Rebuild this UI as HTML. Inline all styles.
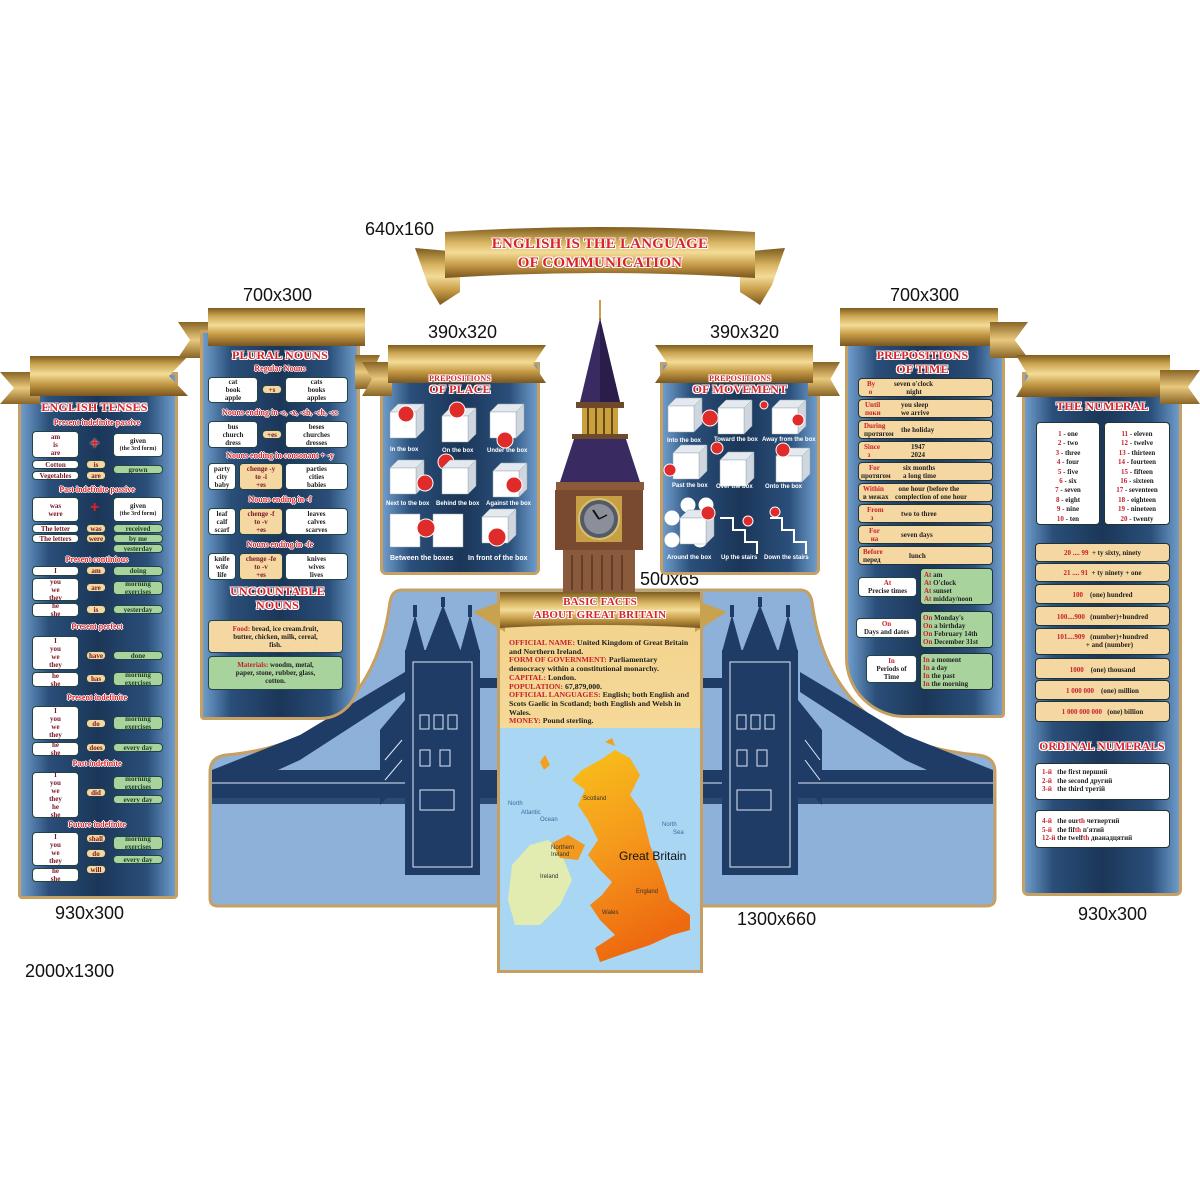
<!DOCTYPE html>
<html><head><meta charset="utf-8"><style>
*{margin:0;padding:0;box-sizing:border-box}
body{width:1200px;height:1200px;background:#fff;position:relative;overflow:hidden;font-family:"Liberation Serif","DejaVu Serif",serif}
.a{position:absolute}
.lbl{position:absolute;font:18px "Liberation Sans",sans-serif;color:#111}
.p{position:absolute;background:linear-gradient(90deg,#6f9ccb 0%,#2a4f7a 18%,#1b3658 50%,#2a4f7a 82%,#6f9ccb 100%);border:3px solid #c6a062}
.rib{position:absolute;background:linear-gradient(180deg,#7d5c1e 0%,#c9a24f 20%,#f3dc97 45%,#c59a45 70%,#7a5620 100%)}
.flag{position:absolute;background:linear-gradient(180deg,#8a6526,#e8c97c 50%,#8a6526)}
.t{position:absolute;text-align:center;font-weight:bold;color:#d8232a;text-shadow:1px 0 #fff,-1px 0 #fff,0 1px #fff,0 -1px #fff,1px 1px #fff,-1px -1px #fff,1px -1px #fff,-1px 1px #fff;letter-spacing:.2px}
.h{position:absolute;text-align:center;font-weight:bold;font-size:8px;color:#d8232a;text-shadow:1px 0 #fff,-1px 0 #fff,0 1px #fff,0 -1px #fff;line-height:9px}
.b{position:absolute;border-radius:4px;font-weight:bold;font-size:7px;line-height:8px;text-align:center;color:#7a1626;display:flex;flex-direction:column;justify-content:center;align-items:center;border:1px solid #244}
.w{background:#fff}.o{background:#f5d7a2}.g{background:#a8d39d;color:#20402a}
.d{color:#222}.r{color:#c8202a}
.ob{position:absolute;background:#f5d7a2;border-radius:4px;border:1px solid #233;font-weight:bold;font-size:7px;line-height:8px;color:#222}
</style></head><body>

<div class="lbl" style="left:365px;top:219px">640x160</div>
<div class="lbl" style="left:243px;top:285px">700x300</div>
<div class="lbl" style="left:428px;top:322px">390x320</div>
<div class="lbl" style="left:710px;top:322px">390x320</div>
<div class="lbl" style="left:890px;top:285px">700x300</div>
<div class="lbl" style="left:640px;top:569px">500x65</div>
<div class="lbl" style="left:55px;top:903px">930x300</div>
<div class="lbl" style="left:737px;top:909px">1300x660</div>
<div class="lbl" style="left:1078px;top:904px">930x300</div>
<div class="lbl" style="left:25px;top:961px">2000x1300</div>

<svg class="a" style="left:0;top:0" width="1200" height="1200">
<defs>
<linearGradient id="gd" x1="0" y1="0" x2="0" y2="1"><stop offset="0" stop-color="#7d5c1e"/><stop offset=".3" stop-color="#d8b461"/><stop offset=".5" stop-color="#f3dc97"/><stop offset=".75" stop-color="#c59a45"/><stop offset="1" stop-color="#7a5620"/></linearGradient>
</defs>
<path d="M415,248 L460,252 L460,292 L440,305 L428,285 Z" fill="url(#gd)"/>
<path d="M785,248 L740,252 L740,292 L760,305 L772,285 Z" fill="url(#gd)"/>
<path d="M445,232 Q600,222 755,232 L755,278 Q600,268 445,278 Z" fill="url(#gd)"/>
</svg>
<div class="t" style="left:445px;top:235px;width:310px;font-size:15px;line-height:19px">ENGLISH IS THE LANGUAGE<br>OF COMMUNICATION</div>

<!-- BRIDGE PANEL -->
<svg class="a" style="left:0;top:0" width="1200" height="1200">
<path d="M402,590 L800,590 Q810,590 812,602 Q830,742 978,755 Q995,757 995,772 L995,898 Q995,906 986,906 L218,906 Q210,906 210,898 L210,772 Q210,757 226,755 Q372,742 390,602 Q392,590 402,590 Z" fill="#8eb1da" stroke="#c6a062" stroke-width="3"/>
<g fill="#1f3c66">
<!-- cables / deck left -->
<polygon points="212,800 212,770 300,735 405,672 405,692 300,760"/>
<rect x="212" y="770" width="285" height="28"/>
<rect x="212" y="798" width="285" height="6" fill="#2b4a75"/>
<rect x="480" y="678" width="20" height="10"/>
<polygon points="380,805 405,780 405,700 380,730"/>
<!-- left tower -->
<rect x="405" y="650" width="75" height="225"/>
<polygon points="405,652 415,615 425,652"/><polygon points="460,652 470,615 480,652"/><polygon points="425,652 443,605 461,652"/>
<rect x="413" y="605" width="4" height="12"/><rect x="468" y="605" width="4" height="12"/><rect x="441" y="597" width="4" height="10"/>
<!-- right -->
<polygon points="993,800 993,770 905,735 800,672 800,692 905,760"/>
<rect x="703" y="770" width="290" height="28"/>
<rect x="703" y="798" width="290" height="6" fill="#2b4a75"/>
<rect x="703" y="678" width="20" height="10"/>
<polygon points="822,805 798,780 798,700 822,730"/>
<rect x="722" y="650" width="76" height="225"/>
<polygon points="722,652 732,615 742,652"/><polygon points="778,652 788,615 798,652"/><polygon points="742,652 760,605 778,652"/>
<rect x="730" y="605" width="4" height="12"/><rect x="786" y="605" width="4" height="12"/><rect x="758" y="597" width="4" height="10"/>
</g>
<g stroke="#dfe8f5" stroke-width="1" fill="none">
<rect x="413" y="662" width="59" height="205"/><rect x="730" y="662" width="60" height="205"/>
<path d="M420,715 h9 v14 h-9z M434,715 h9 v14 h-9z M448,715 h9 v14 h-9z M420,750 h10 v16 h-10z M440,750 h10 v16 h-10z M420,790 h34 v20 h-34z"/>
<path d="M737,715 h9 v14 h-9z M751,715 h9 v14 h-9z M765,715 h9 v14 h-9z M737,750 h10 v16 h-10z M757,750 h10 v16 h-10z M737,790 h34 v20 h-34z"/>
<path d="M212,783 H405 M703,783 H722 M798,783 H993"/>
<path d="M385,760 L402,740 M385,780 L402,760 M805,740 L820,760 M805,760 L820,780"/>
</g>
</svg>

<!-- ENGLISH TENSES panel -->
<div class="p" style="left:18px;top:372px;width:160px;height:527px;border-radius:0 0 4px 4px"></div>
<div class="flag" style="left:0;top:372px;width:40px;height:32px;clip-path:polygon(0 0,100% 0,100% 100%,0 100%,14px 50%)"></div>
<div class="rib" style="left:30px;top:356px;width:158px;height:40px;clip-path:polygon(0 0,100% 0,88% 50%,100% 100%,0 100%)"></div>
<div class="flag" style="left:178px;top:322px;width:30px;height:36px;clip-path:polygon(0 0,100% 0,100% 100%,0 100%,12px 50%)"></div>
<div class="t" style="left:22px;top:400px;width:145px;font-size:12px">ENGLISH TENSES</div>
<div class="h" style="left:22px;top:418px;width:150px">Present indefinite passive</div>
<div class="b w" style="left:32px;top:431px;width:47px;height:27px">am<br>is<br>are</div>
<div class="a" style="left:90px;top:435px;color:#d8232a;font:bold 16px Liberation Sans;text-shadow:0 0 2px #fff">+</div>
<div class="b w" style="left:113px;top:433px;width:50px;height:24px"><span class="d">given</span><span class="d" style="font-size:6px">(the 3rd form)</span></div>
<div class="b w" style="left:32px;top:460px;width:47px;height:9px">Cotton</div>
<div class="b o" style="left:86px;top:460px;width:20px;height:9px">is</div>
<div class="b w" style="left:32px;top:471px;width:47px;height:9px">Vegetables</div>
<div class="b o" style="left:86px;top:471px;width:20px;height:9px">are</div>
<div class="b g" style="left:113px;top:465px;width:50px;height:9px">grown</div>
<div class="h" style="left:22px;top:485px;width:150px">Past indefinite passive</div>
<div class="b w" style="left:32px;top:497px;width:47px;height:25px">was<br>were</div>
<div class="a" style="left:90px;top:499px;color:#d8232a;font:bold 16px Liberation Sans">+</div>
<div class="b w" style="left:113px;top:497px;width:50px;height:25px"><span class="d">given</span><span class="d" style="font-size:6px">(the 3rd form)</span></div>
<div class="b w" style="left:32px;top:524px;width:47px;height:9px">The letter</div>
<div class="b o" style="left:86px;top:524px;width:20px;height:9px">was</div>
<div class="b g" style="left:113px;top:524px;width:50px;height:9px">received</div>
<div class="b w" style="left:32px;top:534px;width:47px;height:9px">The letters</div>
<div class="b o" style="left:86px;top:534px;width:20px;height:9px">were</div>
<div class="b g" style="left:113px;top:534px;width:50px;height:9px">by me</div>
<div class="b g" style="left:113px;top:544px;width:50px;height:9px">yesterday</div>
<div class="h" style="left:22px;top:555px;width:150px">Present continious</div>
<div class="b w" style="left:32px;top:566px;width:47px;height:10px">I</div>
<div class="b o" style="left:86px;top:566px;width:20px;height:9px">am</div>
<div class="b g" style="left:113px;top:566px;width:50px;height:10px">doing</div>
<div class="b w" style="left:32px;top:578px;width:47px;height:23px">you<br>we<br>they</div>
<div class="b o" style="left:86px;top:583px;width:20px;height:9px">are</div>
<div class="b g" style="left:113px;top:581px;width:50px;height:14px">morning<br>exercises</div>
<div class="b w" style="left:32px;top:603px;width:47px;height:14px">he<br>she</div>
<div class="b o" style="left:86px;top:605px;width:20px;height:9px">is</div>
<div class="b g" style="left:113px;top:605px;width:50px;height:9px">yesterday</div>
<div class="h" style="left:22px;top:622px;width:150px">Present perfect</div>
<div class="b w" style="left:32px;top:636px;width:47px;height:34px">I<br>you<br>we<br>they</div>
<div class="b o" style="left:86px;top:651px;width:20px;height:9px">have</div>
<div class="b g" style="left:113px;top:651px;width:50px;height:9px">done</div>
<div class="b w" style="left:32px;top:672px;width:47px;height:15px">he<br>she</div>
<div class="b o" style="left:86px;top:674px;width:20px;height:9px">has</div>
<div class="b g" style="left:113px;top:672px;width:50px;height:14px">morning<br>exercises</div>
<div class="h" style="left:22px;top:693px;width:150px">Present indefinite</div>
<div class="b w" style="left:32px;top:706px;width:47px;height:34px">I<br>you<br>we<br>they</div>
<div class="b o" style="left:86px;top:719px;width:20px;height:9px">do</div>
<div class="b g" style="left:113px;top:716px;width:50px;height:14px">morning<br>exercises</div>
<div class="b w" style="left:32px;top:742px;width:47px;height:14px">he<br>she</div>
<div class="b o" style="left:86px;top:743px;width:20px;height:9px">does</div>
<div class="b g" style="left:113px;top:743px;width:50px;height:9px">every day</div>
<div class="h" style="left:22px;top:759px;width:150px">Past indefinite</div>
<div class="b w" style="left:32px;top:772px;width:47px;height:46px">I<br>you<br>we<br>they<br>he<br>she</div>
<div class="b o" style="left:86px;top:788px;width:20px;height:9px">did</div>
<div class="b g" style="left:113px;top:776px;width:50px;height:14px">morning<br>exercises</div>
<div class="b g" style="left:113px;top:795px;width:50px;height:9px">every day</div>
<div class="h" style="left:22px;top:820px;width:150px">Future indefinite</div>
<div class="b w" style="left:32px;top:832px;width:47px;height:34px">I<br>you<br>we<br>they</div>
<div class="b o" style="left:86px;top:834px;width:20px;height:9px">shall</div>
<div class="b o" style="left:86px;top:849px;width:20px;height:9px">do</div>
<div class="b o" style="left:86px;top:865px;width:20px;height:9px">will</div>
<div class="b g" style="left:113px;top:836px;width:50px;height:14px">morning<br>exercises</div>
<div class="b g" style="left:113px;top:855px;width:50px;height:9px">every day</div>
<div class="b w" style="left:32px;top:868px;width:47px;height:14px">he<br>she</div>

<!-- PLURAL NOUNS panel -->
<div class="p" style="left:200px;top:330px;width:160px;height:390px;border-radius:0 0 40px 4px"></div>
<div class="rib" style="left:208px;top:308px;width:157px;height:38px"></div>
<div class="flag" style="left:355px;top:355px;width:25px;height:34px;clip-path:polygon(0 0,100% 0,70% 50%,100% 100%,0 100%)"></div>
<div class="t" style="left:205px;top:348px;width:150px;font-size:12px">PLURAL NOUNS</div>
<div class="h" style="left:205px;top:364px;width:150px">Regular Nouns</div>
<div class="b w" style="left:208px;top:377px;width:50px;height:26px"><span class="d">cat<br>book<br>apple</span></div>
<div class="b o" style="left:262px;top:385px;width:20px;height:9px">+s</div>
<div class="b w" style="left:285px;top:377px;width:63px;height:26px"><span class="d">cats<br>books<br>apples</span></div>
<div class="h" style="left:205px;top:408px;width:150px">Nouns ending in -s, -x, -sh, -ch, -ss</div>
<div class="b w" style="left:208px;top:421px;width:50px;height:27px"><span class="d">bus<br>church<br>dress</span></div>
<div class="b o" style="left:262px;top:430px;width:20px;height:9px">+es</div>
<div class="b w" style="left:285px;top:421px;width:63px;height:27px"><span class="d">beses<br>churches<br>dresses</span></div>
<div class="h" style="left:205px;top:451px;width:150px">Nouns ending in consonant + -y</div>
<div class="b w" style="left:208px;top:463px;width:28px;height:27px"><span class="d">party<br>city<br>baby</span></div>
<div class="b o" style="left:239px;top:463px;width:44px;height:27px">chenge -y<br>to -i<br>+es</div>
<div class="b w" style="left:285px;top:463px;width:63px;height:27px"><span class="d">parties<br>cities<br>babies</span></div>
<div class="h" style="left:205px;top:495px;width:150px">Nouns ending in -f</div>
<div class="b w" style="left:208px;top:508px;width:28px;height:27px"><span class="d">leaf<br>calf<br>scarf</span></div>
<div class="b o" style="left:239px;top:508px;width:44px;height:27px">chenge -f<br>to -v<br>+es</div>
<div class="b w" style="left:285px;top:508px;width:63px;height:27px"><span class="d">leaves<br>calves<br>scarves</span></div>
<div class="h" style="left:205px;top:540px;width:150px">Nouns ending in -fe</div>
<div class="b w" style="left:208px;top:553px;width:28px;height:27px"><span class="d">knife<br>wife<br>life</span></div>
<div class="b o" style="left:239px;top:553px;width:44px;height:27px">chenge -fe<br>to -v<br>+es</div>
<div class="b w" style="left:285px;top:553px;width:63px;height:27px"><span class="d">knives<br>wives<br>lives</span></div>
<div class="t" style="left:205px;top:584px;width:145px;font-size:12px;line-height:14px">UNCOUNTABLE<br>NOUNS</div>
<div class="b o" style="left:208px;top:620px;width:135px;height:33px;color:#222"><span><span class="r">Food:</span> bread, ice cream.fruit,<br>butter, chicken, milk, cereal,<br>fish.</span></div>
<div class="b g" style="left:208px;top:656px;width:135px;height:34px;color:#222"><span><span class="r">Materials:</span> woodm, metal,<br>paper, stone, rubber, glass,<br>cotton.</span></div>

<!-- PREPOSITIONS OF PLACE -->
<div class="p" style="left:380px;top:362px;width:160px;height:213px;border-radius:0 0 6px 6px"></div>
<div class="flag" style="left:362px;top:362px;width:30px;height:34px;clip-path:polygon(0 0,100% 0,100% 100%,0 100%,10px 50%)"></div>
<div class="rib" style="left:388px;top:345px;width:158px;height:38px;clip-path:polygon(0 0,100% 0,92% 50%,100% 100%,0 100%)"></div>
<div class="t" style="left:385px;top:374px;width:150px;font-size:8px;line-height:9px">PREPOSITIONS</div>
<div class="t" style="left:385px;top:383px;width:150px;font-size:12px;line-height:13px">OF PLACE</div>
<!-- PREPOSITIONS OF MOVEMENT -->
<div class="p" style="left:660px;top:362px;width:160px;height:213px;border-radius:0 0 6px 6px"></div>
<div class="flag" style="left:808px;top:362px;width:32px;height:34px;clip-path:polygon(0 0,100% 0,70% 50%,100% 100%,0 100%)"></div>
<div class="rib" style="left:655px;top:345px;width:158px;height:38px;clip-path:polygon(0 0,100% 0,100% 100%,0 100%,8% 50%)"></div>
<div class="t" style="left:665px;top:374px;width:150px;font-size:8px;line-height:9px">PREPOSITIONS</div>
<div class="t" style="left:665px;top:383px;width:150px;font-size:12px;line-height:13px">OF MOVEMENT</div>

<svg class="a" style="left:0;top:0" width="1200" height="1200">
<defs>
<g id="cube"><polygon points="0,8 8,0 34,0 26,8" fill="#e4e9f0" stroke="#9aa" stroke-width=".5"/><polygon points="26,8 34,0 34,26 26,34" fill="#cfd6e0" stroke="#9aa" stroke-width=".5"/><rect x="0" y="8" width="26" height="26" fill="#fff" stroke="#9aa" stroke-width=".5"/></g>
</defs>
<g fill="#e02b2b" stroke="#fff" stroke-width="1">
<use href="#cube" x="390" y="404"/><circle cx="406" cy="414" r="8"/>
<use href="#cube" x="442" y="408"/><circle cx="457" cy="410" r="8"/>
<use href="#cube" x="490" y="404"/><circle cx="505" cy="440" r="8"/>
<use href="#cube" x="390" y="460"/><circle cx="425" cy="483" r="8"/>
<circle cx="446" cy="462" r="8"/><use href="#cube" x="442" y="460"/>
<use href="#cube" x="493" y="463"/><circle cx="514" cy="485" r="8"/>
<rect x="390" y="514" width="30" height="33" fill="#fff" stroke="#9aa" stroke-width=".5"/><rect x="433" y="514" width="30" height="33" fill="#fff" stroke="#9aa" stroke-width=".5"/><circle cx="426" cy="528" r="9"/>
<use href="#cube" x="482" y="509"/><circle cx="497" cy="537" r="9"/>
<use href="#cube" x="668" y="398"/><circle cx="710" cy="418" r="8"/>
<use href="#cube" x="718" y="400"/><circle cx="764" cy="405" r="4"/>
<use href="#cube" x="772" y="400"/><circle cx="798" cy="420" r="6"/>
<use href="#cube" x="673" y="445"/><circle cx="670" cy="470" r="6"/>
<use href="#cube" x="720" y="452"/><circle cx="717" cy="448" r="6"/>
<use href="#cube" x="776" y="448"/><circle cx="783" cy="450" r="7"/>
<circle cx="672" cy="518" r="7" fill="#fff"/><circle cx="688" cy="505" r="7" fill="#fff"/><circle cx="706" cy="505" r="7" fill="#fff"/><circle cx="672" cy="540" r="7" fill="#fff"/><circle cx="700" cy="540" r="7" fill="#fff"/>
<use href="#cube" x="680" y="510"/><circle cx="708" cy="513" r="7"/>
<polyline points="720,518 733,518 733,530 745,530 745,542 757,542 757,554" fill="none" stroke="#fff" stroke-width="2"/><circle cx="748" cy="521" r="5"/>
<polyline points="770,518 782,518 782,530 794,530 794,542 806,542 806,554" fill="none" stroke="#fff" stroke-width="2"/><circle cx="775" cy="512" r="5"/>
</g>
<g font-family="Liberation Sans" font-size="6" font-weight="bold" fill="#fff">
<text x="390" y="451">In the box</text><text x="442" y="452">On the box</text><text x="487" y="452">Under the box</text>
<text x="386" y="505">Next to the box</text><text x="436" y="505">Behind the box</text><text x="486" y="505">Against the box</text>
<text x="390" y="560" font-size="7">Between the boxes</text><text x="468" y="560" font-size="7">In front of the box</text>
<text x="667" y="442">Into the box</text><text x="714" y="441">Toward the box</text><text x="762" y="441">Away from the box</text>
<text x="672" y="487">Past the box</text><text x="716" y="488">Over the box</text><text x="765" y="488">Onto the box</text>
<text x="667" y="559">Around the box</text><text x="721" y="559">Up the stairs</text><text x="764" y="559">Down the stairs</text>
</g>

<!-- BIG BEN -->
<line x1="600" y1="300" x2="600" y2="320" stroke="#c8a050" stroke-width="2"/>
<polygon points="600,318 580,402 620,402" fill="#3a2a62"/>
<polygon points="600,318 600,402 620,402" fill="#2a1d4c"/>
<rect x="576" y="402" width="48" height="6" fill="#6e4a2a"/>
<rect x="582" y="408" width="36" height="28" fill="#c9a040"/>
<g stroke="#6a4a10" stroke-width="2"><line x1="588" y1="408" x2="588" y2="436"/><line x1="596" y1="408" x2="596" y2="436"/><line x1="604" y1="408" x2="604" y2="436"/><line x1="612" y1="408" x2="612" y2="436"/></g>
<rect x="572" y="434" width="56" height="5" fill="#6e4a2a"/>
<polygon points="574,439 626,439 640,482 560,482" fill="#3a2a62"/>
<rect x="556" y="482" width="88" height="8" fill="#8a5a3a"/>
<rect x="555" y="490" width="88" height="60" fill="#7a4a30"/>
<rect x="576" y="496" width="46" height="46" fill="#c7a046"/>
<circle cx="599" cy="519" r="20" fill="#555a66" stroke="#d8c070" stroke-width="2"/>
<circle cx="599" cy="519" r="15" fill="#8a8f9a"/>
<line x1="599" y1="519" x2="593" y2="510" stroke="#111" stroke-width="2"/><line x1="599" y1="519" x2="607" y2="515" stroke="#111" stroke-width="1.5"/>
<rect x="563" y="550" width="72" height="42" fill="#8a5a3c"/>
<g stroke="#5a3420" stroke-width="1.5"><line x1="572" y1="555" x2="572" y2="590"/><line x1="582" y1="555" x2="582" y2="590"/><line x1="592" y1="555" x2="592" y2="590"/><line x1="602" y1="555" x2="602" y2="590"/><line x1="612" y1="555" x2="612" y2="590"/><line x1="622" y1="555" x2="622" y2="590"/></g>
</svg>

<!-- PREPOSITIONS OF TIME -->
<div class="p" style="left:845px;top:330px;width:160px;height:388px;border-radius:0 0 4px 60px"></div>
<div class="rib" style="left:840px;top:308px;width:158px;height:38px"></div>
<div class="flag" style="left:990px;top:322px;width:38px;height:36px;clip-path:polygon(0 0,100% 0,65% 50%,100% 100%,0 100%)"></div>
<div class="t" style="left:850px;top:348px;width:145px;font-size:12px;line-height:14px">PREPOSITIONS<br>OF TIME</div>
<div class="ob" style="left:858px;top:378px;width:135px;height:19px"><span class="a r" style="left:8px;top:1px">By<br>&nbsp;о</span><span class="a" style="left:35px;top:1px">seven o'clock<br>&nbsp;&nbsp;&nbsp;&nbsp;&nbsp;&nbsp;&nbsp;night</span></div>
<div class="ob" style="left:858px;top:399px;width:135px;height:19px"><span class="a r" style="left:6px;top:1px">Until<br>поки</span><span class="a" style="left:42px;top:1px">you sleep<br>we arrive</span></div>
<div class="ob" style="left:858px;top:420px;width:135px;height:19px"><span class="a r" style="left:5px;top:1px">During<br><span class="d">протягом</span></span><span class="a" style="left:42px;top:5px">the holiday</span></div>
<div class="ob" style="left:858px;top:441px;width:135px;height:19px"><span class="a r" style="left:5px;top:1px">Since<br>&nbsp;&nbsp;з</span><span class="a" style="left:52px;top:1px">1947<br>2024</span></div>
<div class="ob" style="left:858px;top:462px;width:135px;height:19px"><span class="a r" style="left:10px;top:1px">For<br><span class="d" style="margin-left:-8px">протягом</span></span><span class="a" style="left:44px;top:1px">six months<br>a long time</span></div>
<div class="ob" style="left:858px;top:483px;width:135px;height:19px"><span class="a r" style="left:4px;top:1px">Within<br><span class="d">в межах</span></span><span class="a" style="left:36px;top:1px">&nbsp;&nbsp;one hour (before the<br>complection of one hour</span></div>
<div class="ob" style="left:858px;top:504px;width:135px;height:19px"><span class="a r" style="left:8px;top:1px">From<br>&nbsp;&nbsp;з</span><span class="a" style="left:42px;top:5px">two to three</span></div>
<div class="ob" style="left:858px;top:525px;width:135px;height:19px"><span class="a r" style="left:10px;top:1px">For<br>&nbsp;на</span><span class="a" style="left:42px;top:5px">seven days</span></div>
<div class="ob" style="left:858px;top:546px;width:135px;height:19px"><span class="a r" style="left:4px;top:1px">Before<br><span class="d">перед</span></span><span class="a" style="left:50px;top:5px">lunch</span></div>
<div class="b w" style="left:858px;top:577px;width:59px;height:20px;color:#222"><span class="r">At</span>Precise times</div>
<div class="ob" style="left:920px;top:568px;width:73px;height:37px;background:#a8d39d;text-align:left;padding:2px 3px"><span class="r">At</span> am<br><span class="r">At</span> O'clock<br><span class="r">At</span> sunset<br><span class="r">At</span> midday/noon</div>
<div class="b w" style="left:856px;top:618px;width:61px;height:20px;color:#222"><span class="r">On</span>Days and dates</div>
<div class="ob" style="left:920px;top:611px;width:73px;height:37px;background:#a8d39d;text-align:left;padding:2px 2px"><span class="r">On</span> Monday's<br><span class="r">On</span> a birthday<br><span class="r">On</span> February 14th<br><span class="r">On</span> December 31st</div>
<div class="b w" style="left:866px;top:655px;width:51px;height:28px;color:#222"><span class="r">In</span>Periods of<br>Time</div>
<div class="ob" style="left:920px;top:653px;width:73px;height:37px;background:#a8d39d;text-align:left;padding:2px 2px"><span class="r">In</span> a moment<br><span class="r">In</span> a day<br><span class="r">In</span> the past<br><span class="r">In</span> the morning</div>

<!-- THE NUMERAL -->
<div class="p" style="left:1022px;top:372px;width:160px;height:524px;border-radius:0 0 6px 6px"></div>
<div class="rib" style="left:1016px;top:355px;width:154px;height:42px;clip-path:polygon(0 0,100% 0,100% 100%,0 100%,8% 50%)"></div>
<div class="flag" style="left:1160px;top:370px;width:40px;height:34px;clip-path:polygon(0 0,100% 0,70% 50%,100% 100%,0 100%)"></div>
<div class="t" style="left:1030px;top:399px;width:145px;font-size:12px">THE NUMERAL</div>
<div class="ob" style="left:1036px;top:422px;width:64px;height:103px;background:#fff;text-align:center;line-height:9.4px;padding-top:7px"><span class="r">1</span> - one<br><span class="r">2</span> - two<br><span class="r">3</span> - three<br><span class="r">4</span> - four<br><span class="r">5</span> - five<br><span class="r">6</span> - six<br><span class="r">7</span> - seven<br><span class="r">8</span> - eight<br><span class="r">9</span> - nine<br><span class="r">10</span> - ten</div>
<div class="ob" style="left:1104px;top:422px;width:66px;height:103px;background:#fff;text-align:center;line-height:9.4px;padding-top:7px"><span class="r">11</span> - eleven<br><span class="r">12</span> - twelve<br><span class="r">13</span> - thirteen<br><span class="r">14</span> - fourteen<br><span class="r">15</span> - fifteen<br><span class="r">16</span> - sixteen<br><span class="r">17</span> - seventeen<br><span class="r">18</span> - eighteen<br><span class="r">19</span> - nineteen<br><span class="r">20</span> - twenty</div>
<div class="ob" style="left:1035px;top:543px;width:135px;height:19px;text-align:center;padding-top:5px"><span class="r">20 .... 99</span> &nbsp;+ ty sixty, ninety</div>
<div class="ob" style="left:1035px;top:563px;width:135px;height:19px;text-align:center;padding-top:5px"><span class="r">21 .... 91</span> &nbsp;+ ty ninety + one</div>
<div class="ob" style="left:1035px;top:584px;width:135px;height:20px;text-align:center;padding-top:6px"><span class="r">100</span> &nbsp;&nbsp;&nbsp;(one) hundred</div>
<div class="ob" style="left:1035px;top:606px;width:135px;height:20px;text-align:center;padding-top:6px"><span class="r">100....900</span> &nbsp;&nbsp;(number)+hundred</div>
<div class="ob" style="left:1035px;top:628px;width:135px;height:27px;text-align:center;padding-top:4px"><span class="r">101....909</span> &nbsp;&nbsp;(number)+hundred<br>&nbsp;&nbsp;&nbsp;&nbsp;&nbsp;&nbsp;&nbsp;&nbsp;+ and (number)</div>
<div class="ob" style="left:1035px;top:658px;width:135px;height:21px;text-align:center;padding-top:7px"><span class="r">1000</span> &nbsp;&nbsp;&nbsp;(one) thousand</div>
<div class="ob" style="left:1035px;top:680px;width:135px;height:20px;text-align:center;padding-top:6px"><span class="r">1 000 000</span> &nbsp;&nbsp;&nbsp;(one) million</div>
<div class="ob" style="left:1035px;top:701px;width:135px;height:21px;text-align:center;padding-top:6px"><span class="r">1 000 000 000</span> &nbsp;&nbsp;(one) billion</div>
<div class="t" style="left:1026px;top:741px;width:152px;font-size:11.5px">ORDINAL NUMERALS</div>
<div class="ob" style="left:1035px;top:763px;width:135px;height:37px;background:#fff;padding:4px 6px;line-height:8.5px"><span class="r">1-й</span> &nbsp;&nbsp;the first перший<br><span class="r">2-й</span> &nbsp;&nbsp;the second другий<br><span class="r">3-й</span> &nbsp;&nbsp;the third третій</div>
<div class="ob" style="left:1035px;top:810px;width:135px;height:38px;background:#fff;padding:6px 6px;line-height:8.5px"><span class="r">4-й</span> &nbsp;&nbsp;the our<span class="r">th</span> четвертий<br><span class="r">5-й</span> &nbsp;&nbsp;the fif<span class="r">th</span> п'ятий<br><span class="r">12-й</span> the twelf<span class="r">th</span> дванадцятий</div>

<!-- BASIC FACTS -->
<div class="a" style="left:497px;top:592px;width:206px;height:381px;border:3px solid #c6a062;background:linear-gradient(180deg,#f2d28a 0%,#fbe6b2 100%)"></div>
<svg class="a" style="left:0;top:0" width="1200" height="1200">
<defs><linearGradient id="mp" x1="0" y1="0" x2="0.3" y2="1"><stop offset="0" stop-color="#f8c21a"/><stop offset=".5" stop-color="#f59a1c"/><stop offset="1" stop-color="#ee6a10"/></linearGradient></defs>
<path d="M473,612 L505,600 L505,632 Z" fill="#c9a24f"/>
<path d="M727,612 L695,600 L695,632 Z" fill="#c9a24f"/>
<path d="M500,592 L700,592 L700,628 Q600,622 500,628 Z" fill="url(#gd)"/>
<rect x="500" y="728" width="200" height="242" fill="#a9d6f2"/>
<path d="M512,865 L530,845 L548,840 L560,850 L572,880 L560,905 L540,925 L515,925 L508,900 Z" fill="#e2ecb0"/>
<path d="M552,843 L568,835 L585,845 L578,860 L560,858 Z" fill="#f29a1e"/>
<path d="M600,760 L615,750 L630,758 L640,775 L630,795 L642,812 L650,845 L660,870 L670,900 L690,915 L690,930 L672,935 L650,945 L620,955 L600,962 L595,948 L615,935 L600,920 L590,905 L602,895 L612,882 L600,870 L588,855 L598,840 L588,820 L578,805 L585,790 L572,780 L582,770 Z" fill="url(#mp)"/>
<path d="M540,762 L545,755 L550,765 L544,770 Z" fill="#f2a01e"/>
<path d="M605,742 L612,738 L615,746 Z" fill="#f2a01e"/>
<g font-family="Liberation Sans" font-size="6" fill="#3a6aa0"><text x="508" y="805">North</text><text x="521" y="814">Atlantic</text><text x="540" y="821">Ocean</text><text x="662" y="826">North</text><text x="673" y="834">Sea</text></g>
<g font-family="Liberation Sans" font-size="6" fill="#333"><text x="583" y="800">Scotland</text><text x="551" y="849">Northern</text><text x="551" y="856">Ireland</text><text x="540" y="878">Ireland</text><text x="636" y="893">England</text><text x="602" y="914">Wales</text></g>
<text x="619" y="860" font-family="Liberation Sans" font-size="12" fill="#111">Great Britain</text>
</svg>
<div class="t" style="left:500px;top:596px;width:200px;font-size:11px;line-height:13px">BASIC FACTS<br>ABOUT GREAT BRITAIN</div>
<div class="a" style="left:509px;top:639px;width:186px;font-weight:bold;font-size:7.8px;line-height:8.7px;color:#222"><span class="r">OFFICIAL NAME:</span> United Kingdom of Great Britain and Northern Ireland.<br><span class="r">FORM OF GOVERNMENT:</span> Parliamentary democracy within a constitutional monarchy.<br><span class="r">CAPITAL:</span> London.<br><span class="r">POPULATION:</span> 67,879,000.<br><span class="r">OFFICIAL LANGUAGES:</span> English; both English and Scots Gaelic in Scotland; both English and Welsh in Wales.<br><span class="r">MONEY:</span> Pound sterling.</div>
</body></html>
